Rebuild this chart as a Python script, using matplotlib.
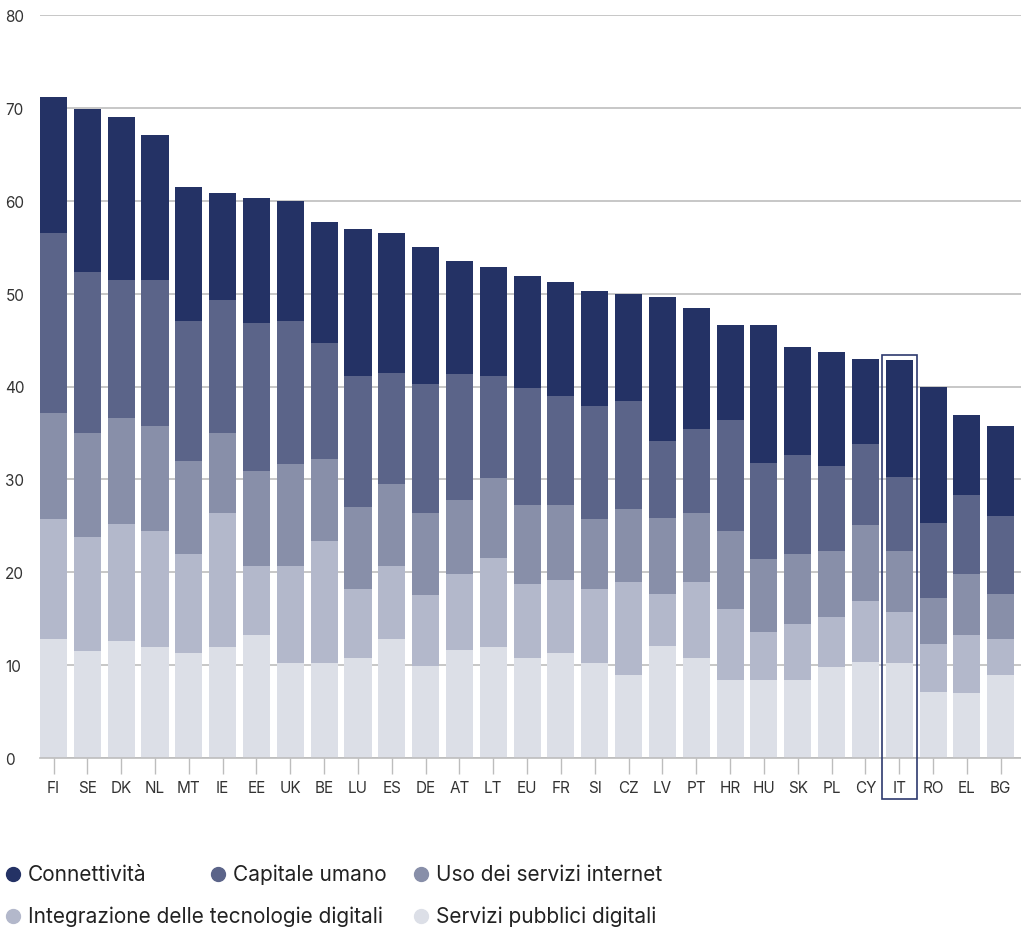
import numpy as np
import matplotlib
matplotlib.use("Agg")
import matplotlib.pyplot as plt
from matplotlib.patches import Rectangle
from matplotlib.lines import Line2D

plt.rcParams['font.family'] = ['Inter', 'DejaVu Sans']

# countries, ordered by total score
countries = ["FI", "SE", "DK", "NL", "MT", "IE", "EE", "UK", "BE", "LU", "ES", "DE", "AT", "LT", "EU",
             "FR", "SI", "CZ", "LV", "PT", "HR", "HU", "SK", "PL", "CY", "IT", "RO", "EL", "BG"]

# components (bottom to top)
servizi_pubblici = [12.8, 11.5, 12.6, 12.0, 11.3, 12.0, 13.2, 10.2, 10.2, 10.8, 12.8, 9.9, 11.6, 12.0, 10.8,
                    11.3, 10.2, 8.9, 12.1, 10.8, 8.4, 8.4, 8.4, 9.8, 10.3, 10.2, 7.1, 7.0, 8.9]
integrazione = [12.9, 12.3, 12.6, 12.4, 10.7, 14.4, 7.5, 10.5, 13.2, 7.4, 7.9, 7.7, 8.2, 9.5, 7.9,
                7.9, 8.0, 10.1, 5.6, 8.2, 7.6, 5.2, 6.0, 5.4, 6.6, 5.5, 5.2, 6.2, 3.9]
uso_internet = [11.4, 11.2, 11.4, 11.4, 10.0, 8.6, 10.2, 11.0, 8.8, 8.8, 8.8, 8.8, 8.0, 8.6, 8.5,
                8.0, 7.5, 7.8, 8.1, 7.4, 8.4, 7.8, 7.6, 7.1, 8.2, 6.6, 4.9, 6.6, 4.9]
capitale_umano = [19.4, 17.3, 14.9, 15.7, 15.0, 14.3, 15.9, 15.3, 12.5, 14.1, 11.9, 13.9, 13.5, 11.0, 12.6,
                  11.8, 12.2, 11.6, 8.3, 9.0, 12.0, 10.4, 10.6, 9.1, 8.7, 8.0, 8.1, 8.5, 8.4]
connettivita = [14.7, 17.6, 17.5, 15.6, 14.5, 11.5, 13.5, 13.0, 13.0, 15.9, 15.1, 14.7, 12.2, 11.8, 12.1,
                12.3, 12.4, 11.6, 15.5, 13.1, 10.2, 14.8, 11.7, 12.3, 9.2, 12.6, 14.6, 8.6, 9.7]

series = [
    ("Servizi pubblici digitali", servizi_pubblici, "#dcdfe7"),
    ("Integrazione delle tecnologie digitali", integrazione, "#b3b8cb"),
    ("Uso dei servizi internet", uso_internet, "#888fa9"),
    ("Capitale umano", capitale_umano, "#5b6489"),
    ("Connettività", connettivita, "#243265"),
]
highlight = "IT"

fig = plt.figure(figsize=(10.21, 9.29), dpi=100)
ax = fig.add_axes([40/1021, 170/929, 981/1021, 743/929])

x = np.arange(len(countries))
bottom = np.zeros(len(countries))
for name, vals, col in series:
    ax.bar(x, vals, width=0.8, bottom=bottom, color=col, zorder=2)
    bottom += np.array(vals)

ax.set_xlim(-0.4, len(countries) - 0.4)
ax.set_ylim(0, 80)
ax.set_yticks(range(0, 81, 10))
ax.set_axisbelow(True)
ax.grid(axis='y', color='#bdbdbd', linewidth=1.2)
for s in ['top', 'right', 'left']:
    ax.spines[s].set_visible(False)
ax.spines['bottom'].set_color('#bdbdbd')
ax.spines['bottom'].set_linewidth(1.2)

ax.set_xticks(x)
ax.set_xticklabels(countries)
ax.tick_params(axis='x', length=11.5, width=1, color='#bdbdbd', pad=4, labelsize=11, labelcolor='#333333')
ax.tick_params(axis='y', length=0, pad=25, labelsize=11, labelcolor='#333333')
for lbl in ax.get_yticklabels():
    lbl.set_horizontalalignment('left')

# highlight box around Italy
i = countries.index(highlight)
ax.add_patch(Rectangle((i - 0.52, -4.4), 1.04, bottom[i] + 0.45 + 4.4, fill=False,
                       edgecolor='#2d3a6e', linewidth=1.2, clip_on=False, zorder=5))

# legend laid out as in the original (flowing rows)
legend_pos = [(13, 875), (218, 875), (421, 875), (13, 917), (421, 917)]
order = [4, 3, 2, 1, 0]
for (px, py), k in zip(legend_pos, order):
    name, vals, col = series[k]
    fig.add_artist(Line2D([px / 1021], [1 - py / 929], marker='o', markersize=10,
                          color=col, linestyle='none', transform=fig.transFigure))
    fig.text((px + 15) / 1021, 1 - py / 929, name, fontsize=15, color='#222222',
             va='center', ha='left')

fig.savefig("out.png", dpi=100)
